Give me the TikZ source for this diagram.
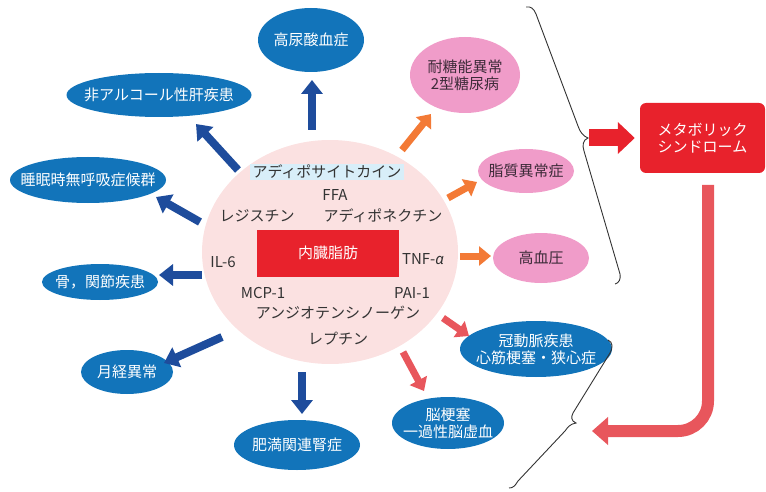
\documentclass[tikz,border=0pt]{standalone}
\usepackage{fontspec}
\setmainfont{Noto Sans CJK JP}
\newfontfamily\grk{Noto Sans}
\usetikzlibrary{shapes.geometric,arrows.meta}
\definecolor{bfill}{HTML}{1274BA}
\definecolor{darr}{HTML}{1E4C9C}
\definecolor{oarr}{HTML}{F37A36}
\definecolor{sarr}{HTML}{E8565C}
\definecolor{pfill}{HTML}{F09CC9}
\definecolor{cfill}{HTML}{FBE1E1}
\definecolor{lbox}{HTML}{D8EEF9}
\definecolor{rfill}{HTML}{E8222C}
\definecolor{tgray}{HTML}{333333}
\definecolor{ptxt}{HTML}{3C2A38}
\tikzset{
  fnt/.style={font=\fontsize{15}{17}\selectfont},
  bell/.style 2 args={ellipse, fill=bfill, minimum width=#1, minimum height=#2, inner sep=0pt},
  pell/.style 2 args={ellipse, fill=pfill, minimum width=#1, minimum height=#2, inner sep=0pt},
  wtxt/.style={fnt, text=white, align=center, inner sep=0pt},
  ptx/.style={fnt, text=ptxt, align=center, inner sep=0pt},
  ctxt/.style={fnt, text=tgray, inner sep=0pt},
  barr/.style={draw=darr, line width=8pt, -{Triangle[length=14pt,width=21pt]}},
  oar/.style={draw=oarr, line width=7pt, -{Triangle[length=12pt,width=19pt]}},
  sar/.style={draw=sarr, line width=7pt, -{Triangle[length=12pt,width=19pt]}},
  brc/.style={draw=tgray, line width=0.9pt},
}
\begin{document}
\begin{tikzpicture}[x=1pt,y=-1pt]
\useasboundingbox (0,0) rectangle (766,492);
% central circle
\node[ellipse, fill=cfill, minimum width=256, minimum height=224, inner sep=0pt] (core) at (330,252) {};
\node[fill=lbox, ctxt, inner xsep=3pt, inner ysep=1.5pt] (adipo) at (327,172) {アディポサイトカイン};
\node[ctxt] (ffa) at (335,195) {FFA};
\node[ctxt] (resis) at (257,216) {レジスチン};
\node[ctxt] (adpn) at (383,216) {アディポネクチン};
\node[fill=rfill, minimum width=142, minimum height=47, inner sep=0pt, fnt, text=white] (vfat) at (328,253) {内臓脂肪};
\node[ctxt] (il6) at (223,262) {IL-6};
\node[ctxt] (tnf) at (423,259) {TNF-{\grk\itshape α}};
\node[ctxt] (mcp) at (263,293) {MCP-1};
\node[ctxt] (pai) at (412,293) {PAI-1};
\node[ctxt] (angio) at (338,313) {アンジオテンシノーゲン};
\node[ctxt] (lep) at (338,339) {レプチン};
% blue ellipses
\node[bell={106}{64}] (uric) at (311,40) {};
\node[wtxt] at (uric) {高尿酸血症};
\node[bell={185}{44}] (nafld) at (159,95) {};
\node[wtxt] at (nafld) {非アルコール性肝疾患};
\node[bell={156}{46}] (sas) at (88,180) {};
\node[wtxt] at (sas) {睡眠時無呼吸症候群};
\node[bell={116}{36}] (bone) at (100,282) {};
\node[wtxt] at (bone) {骨，関節疾患};
\node[bell={92}{44}] (mens) at (127,372) {};
\node[wtxt] at (mens) {月経異常};
\node[bell={126}{50}] (renal) at (297,445) {};
\node[wtxt] at (renal) {肥満関連腎症};
\node[bell={112}{52}] (stroke) at (448,423) {};
\node[wtxt] at (stroke) {脳梗塞\\一過性脳虚血};
\node[bell={152}{56}] (chd) at (536,349) {};
\node[wtxt] at (chd) {冠動脈疾患\\心筋梗塞・狭心症};
% pink ellipses
\node[pell={110}{76}] (igt) at (465,75) {};
\node[ptx] at (igt) {耐糖能異常\\2型糖尿病};
\node[pell={96}{44}] (dysl) at (526,171) {};
\node[ptx] at (dysl) {脂質異常症};
\node[pell={96}{50}] (htn) at (541,258) {};
\node[ptx] at (htn) {高血圧};
% metabolic syndrome
\node[fill=rfill, rounded corners=6pt, minimum width=125, minimum height=70, inner sep=0pt, wtxt] (meta) at (702.5,138) {メタボリック\\シンドローム};
% arrow end coordinates
\coordinate (u0) at (312,130); \coordinate (u1) at (312,80);
\coordinate (n0) at (238,170); \coordinate (n1) at (196,124);
\coordinate (s0) at (200,222); \coordinate (s1) at (156,197);
\coordinate (b0) at (202,275); \coordinate (b1) at (159,275);
\coordinate (m0) at (222,337); \coordinate (m1) at (164,363);
\coordinate (r0) at (302,372); \coordinate (r1) at (302,414);
\coordinate (g0) at (402,150); \coordinate (g1) at (431,114);
\coordinate (d0) at (448,198); \coordinate (d1) at (477,182);
\coordinate (h0) at (460,256); \coordinate (h1) at (491,256);
\coordinate (c0) at (443,318); \coordinate (c1) at (469,336);
\coordinate (k0) at (403,352); \coordinate (k1) at (424,391);
\draw[barr] (u0) -- (u1);
\draw[barr] (n0) -- (n1);
\draw[barr] (s0) -- (s1);
\draw[barr] (b0) -- (b1);
\draw[barr] (m0) -- (m1);
\draw[barr] (r0) -- (r1);
\draw[oar] (g0) -- (g1);
\draw[oar] (d0) -- (d1);
\draw[oar] (h0) -- (h1);
\draw[sar] (c0) -- (c1);
\draw[sar] (k0) -- (k1);
% braces
\coordinate (bt1) at (588,138);
\draw[brc] (526,7) .. controls (531,6) and (534,9) .. (536,14) -- (578,126)
  .. controls (580,132) and (583,136) .. (bt1)
  .. controls (583,140) and (582,145) .. (584,151) -- (620,274)
  .. controls (621,279) and (619,283) .. (615,284);
\coordinate (bt2) at (576,423);
\draw[brc] (608,340) .. controls (613,342) and (613,348) .. (610,353) -- (573,413)
  .. controls (571,417) and (571,421) .. (bt2)
  .. controls (570,424) and (568,427) .. (565,431) -- (518,481)
  .. controls (515,486) and (513,488) .. (509,488);
% arrows to/from metabolic syndrome
\draw[draw=rfill, line width=17pt, -{Triangle[length=17pt,width=31pt]}, shorten <=1pt, shorten >=5pt] (bt1) -- (meta.west);
\coordinate (ms) at (708,173);
\coordinate (ae) at (578,431);
\draw[draw=sarr, line width=12pt, rounded corners=30pt, -{Triangle[length=16pt,width=27pt]}, shorten <=12pt, shorten >=14pt] (ms) |- (ae);
\end{tikzpicture}
\end{document}
